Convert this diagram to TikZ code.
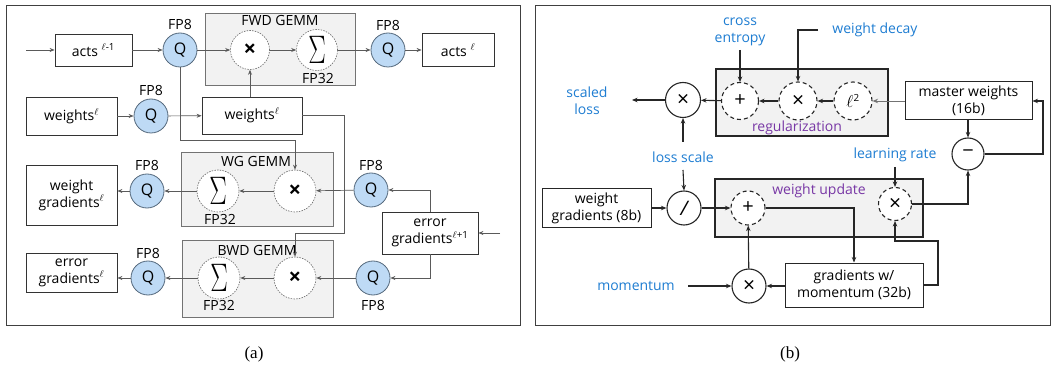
\documentclass[tikz,border=0pt]{standalone}
\usepackage{fontspec}
\usepackage{graphicx}
\setmainfont{Open Sans}
\newfontfamily\capfont{Liberation Serif}
\usetikzlibrary{arrows.meta,calc}
\definecolor{qfill}{RGB}{190,218,245}
\definecolor{qdraw}{RGB}{85,105,125}
\definecolor{gemmfill}{RGB}{242,242,242}
\definecolor{lblue}{RGB}{30,125,210}
\definecolor{lpurple}{RGB}{120,55,165}
\definecolor{lgray}{RGB}{90,90,90}
\newcommand{\bigsig}{\raisebox{-11pt}{\scalebox{1.05}[1.6]{\fontsize{24}{24}\selectfont$\Sigma$}}}
\begin{document}
\begin{tikzpicture}[x=1pt,y=-1pt,
  font=\fontsize{14}{17}\selectfont,
  panel/.style={draw=black!75,line width=0.9pt},
  box/.style={draw=black!80,line width=0.8pt,fill=white,inner sep=0pt,align=center},
  qn/.style={circle,draw=qdraw,fill=qfill,line width=0.8pt,minimum size=34pt,inner sep=0pt,font=\fontsize{16}{16}\selectfont},
  dca/.style={circle,draw=black!60,dash pattern=on 1.5pt off 1.2pt,line width=0.6pt,fill=white,minimum size=40pt,inner sep=0pt},
  gemm/.style={draw=black!55,fill=gemmfill,line width=0.8pt},
  ara/.style={-{Stealth[length=5pt,width=4pt]},line width=0.7pt,draw=lgray},
  arb/.style={-{Stealth[length=5.5pt,width=4.5pt]},line width=1.1pt,draw=black!85},
  scb/.style={circle,draw=black!85,line width=1.1pt,fill=white,minimum size=34pt,inner sep=0pt},
  dcb/.style={circle,draw=black!85,line width=1.1pt,dash pattern=on 4pt off 3pt,fill=white,minimum size=37pt,inner sep=0pt},
  regbox/.style={draw=black!85,fill=gemmfill,line width=1.1pt},
  boxb/.style={draw=black!85,line width=1pt,fill=white,inner sep=0pt,align=center},
  lab/.style={text=lblue,align=center,inner sep=0pt},
  plab/.style={text=lpurple,inner sep=0pt},
  sm/.style={inner sep=0pt},
  xa/.style={font=\fontsize{22}{22}\selectfont\bfseries},
  xb/.style={font=\fontsize{21}{21}\selectfont}
]
\useasboundingbox[fill=white] (0,0) rectangle (1052,366);
% ===== panel frames =====
\draw[panel] (6,5) rectangle (520,325);
\draw[panel] (535,5) rectangle (1050,325);
\node[font=\capfont\fontsize{17}{17}\selectfont] (capa) at (254,354) {(a)};
\node[font=\capfont\fontsize{17}{17}\selectfont] (capb) at (790,354) {(b)};

% ===== panel (a) =====
\draw[gemm] (205,13) rectangle (355,85);
\draw[gemm] (181,152) rectangle (333,226);
\draw[gemm] (182,240) rectangle (333,317);
\node[sm] (lfwd) at (280,21) {FWD GEMM};
\node[sm] (lwg) at (256,162) {WG GEMM};
\node[sm] (lbwd) at (257,250) {BWD GEMM};

\node[box,minimum width=77pt,minimum height=32pt] (actsm) at (93.5,50) {acts \textsuperscript{$\ell$-1}};
\node[qn] (q1) at (180,50) {Q};
\node[dca,minimum size=39pt,xa] (fx) at (250,50) {×};
\node[dca,minimum size=41pt] (fs) at (317,50) {\bigsig};
\node[qn] (q2) at (388,50) {Q};
\node[box,minimum width=72pt,minimum height=33pt] (actsl) at (458,50) {acts \textsuperscript{$\ell$}};

\node[box,minimum width=91pt,minimum height=38pt] (wl) at (71.5,116) {weights\textsuperscript{$\ell$}};
\node[qn] (q3) at (151,116) {Q};
\node[box,minimum width=100pt,minimum height=37pt] (w2) at (252,115.5) {weights\textsuperscript{$\ell$}};

\node[dca,minimum size=42pt] (wgs) at (218,191) {\bigsig};
\node[dca,minimum size=42pt,xa] (wgx) at (295,191) {×};
\node[qn] (q4) at (371,190) {Q};
\node[qn] (q5) at (147,191) {Q};
\node[box,minimum width=91pt,minimum height=60pt] (wgb) at (71.5,195) {weight\\gradients\textsuperscript{$\ell$}};

\node[box,minimum width=96pt,minimum height=42pt] (eg1) at (430,233) {error\\gradients\textsuperscript{$\ell$+1}};
\node[qn] (q6) at (373,278) {Q};
\node[dca,minimum size=42pt,xa] (bx) at (295,278) {×};
\node[dca,minimum size=42pt] (bs) at (219,278) {\bigsig};
\node[qn] (q7) at (148,278) {Q};
\node[box,minimum width=91pt,minimum height=39pt] (egl) at (71.5,272.5) {error\\gradients\textsuperscript{$\ell$}};

% FP labels
\node[sm] (f1) at (180,25) {FP8};
\node[sm] (f2) at (388,26) {FP8};
\node[sm] (f3) at (151,91) {FP8};
\node[sm] (f4) at (371,165) {FP8};
\node[sm] (f5) at (147,166) {FP8};
\node[sm] (f6) at (373,305) {FP8};
\node[sm] (f7) at (148,253) {FP8};
\node[sm] (p1) at (318,79) {FP32};
\node[sm] (p2) at (220,219) {FP32};
\node[sm] (p3) at (219,305) {FP32};

% connectors (a)
\coordinate (ina) at (26,50);
\coordinate (ineg) at (500,233);
\draw[ara] (ina) -- (actsm.west);
\draw[ara] (actsm) -- (q1);
\draw[ara] (q1) -- (fx);
\draw[ara] (fx) -- (fs);
\draw[ara] (fs) -- (q2);
\draw[ara] (q2) -- (actsl);
\draw[ara] (wl) -- (q3);
\draw[ara] (q3) -- (w2);
\draw[ara] (fx |- w2.north) -- (fx.south);
\draw[ara] (q1.south) -- (180,140) -- (wgx.north |- 0,140) -- (wgx.north);
\draw[ara] (w2.east) -- (344,115.5) -- (344,233) -- (bx.north |- 0,233) -- (bx.north);
\draw[ara] (ineg) -- (eg1.east);
\draw[ara] (eg1.north) |- (q4.east);
\draw[ara] (eg1.south) |- (q6.east);
\draw[ara] (q4) -- (wgx);
\draw[ara] (wgx) -- (wgs);
\draw[ara] (wgs) -- (q5);
\draw[ara] (q5) -- (q5 -| wgb.east);
\draw[ara] (q6) -- (bx);
\draw[ara] (bx) -- (bs);
\draw[ara] (bs) -- (q7);
\draw[ara] (q7) -- (q7 -| egl.east);

% ===== panel (b) =====
\draw[regbox] (716,69) rectangle (888,136);
\draw[regbox] (715,179) rectangle (923,237);
\node[plab] (lreg) at (797,128) {regularization};
\node[plab] (lwu) at (819,191) {weight update};

\node[scb,minimum size=35pt,xb] (lossx) at (683,100) {×};
\node[dcb] (rp) at (740,101) {\fontsize{20}{20}\selectfont +};
\node[dcb,minimum size=38pt,xb] (rx) at (798,101) {×};
\node[dcb,minimum size=38pt] (rl) at (853,101) {{\fontsize{18}{18}\selectfont$\ell$}\textsuperscript{2}};
\node[boxb,minimum width=127pt,minimum height=38pt] (mw) at (968.5,101) {master weights\\(16b)};
\node[scb,minimum size=32pt] (minus) at (968,154) {\fontsize{20}{20}\selectfont −};
\node[dcb,minimum size=33pt,xb] (lrx) at (895,204) {×};
\node[dcb,minimum size=34pt] (wup) at (748,208) {\fontsize{20}{20}\selectfont +};
\node[boxb,minimum width=138pt,minimum height=44pt] (gm) at (854,285) {gradients w/\\momentum (32b)};
\node[scb,xb] (mx) at (749,286) {×};
\node[boxb,minimum width=109pt,minimum height=39pt] (wgb8) at (596.5,208.5) {weight\\gradients (8b)};
\node[scb] (div) at (684,208) {\fontsize{20}{20}\selectfont\itshape /};

\node[lab] (ce) at (740,32) {cross\\entropy};
\node[lab] (sl) at (587,101) {scaled\\loss};
\node[lab] (ls) at (683,157) {loss scale};
\node[lab] (wd) at (875,30) {weight decay};
\node[lab] (lr) at (895,155) {learning rate};
\node[lab] (mom) at (636,286) {momentum};

\coordinate (slend) at (632,100);
\coordinate (wdst) at (818,30);
\coordinate (lsup) at (683,142);
\coordinate (lsdn) at (683,170);
\coordinate (lrst) at (895,167);
\coordinate (momst) at (688,286);
\coordinate (cest) at (740,50);

\draw[arb] (cest) -- (rp.north);
\draw[arb] (wdst) -- (rx.north |- wdst) -- (rx.north);
\draw[arb,draw=black!55,line width=0.9pt] (mw.west) -- (rl.east);
\draw[arb] (rl) -- (rx);
\draw[arb] (rx) -- (rp);
\draw[arb] (rp) -- (lossx);
\draw[arb] (lossx) -- (slend);
\draw[arb] (lsup) -- (lossx.south);
\draw[arb] (lsdn) -- (div.north);
\draw[arb] (wgb8.east |- div) -- (div.west);
\draw[arb] (div) -- (wup);
\draw[arb] (mx) -- (wup);
\draw[arb] (momst) -- (mx.west);
\draw[arb] (gm.west |- mx) -- (mx.east);
\draw[arb] (wup.east) -| (gm.north);
\draw[arb] (gm.east) -- (938,285) -- (938,241) -- (lrx.south |- 0,241) -- (lrx.south);
\draw[arb] (lrst) -- (lrx.north);
\draw[arb] (lrx.east) -| (minus.south);
\draw[arb] (mw.south -| minus) -- (minus.north);
\draw[arb] (minus.east) -- (1043,154) -- (1043,101) -- (mw.east);
\end{tikzpicture}
\end{document}
